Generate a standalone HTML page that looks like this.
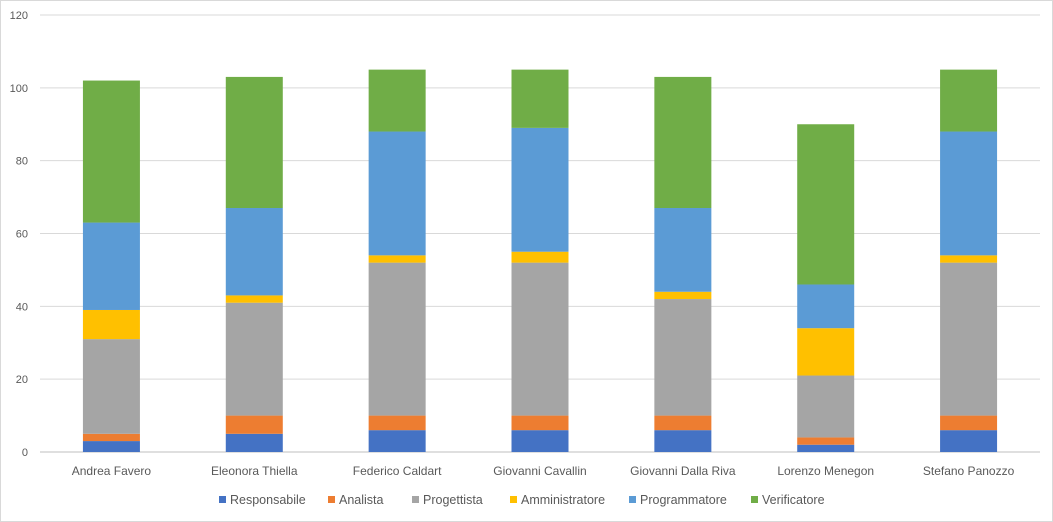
<!DOCTYPE html>
<html><head><meta charset="utf-8"><style>
body{margin:0;background:#fff;}
svg{display:block;font-family:"Liberation Sans",sans-serif;}
</style></head><body>
<svg id="chart" width="1053" height="522">
<rect x="0.5" y="0.5" width="1052" height="521" fill="#fff" stroke="#d9d9d9"/>
<g id="grid"></g><g id="bars"></g><g id="labels"></g><g id="legend"></g>
</svg>
<script>
const categories=["Andrea Favero","Eleonora Thiella","Federico Caldart","Giovanni Cavallin","Giovanni Dalla Riva","Lorenzo Menegon","Stefano Panozzo"];
const seriesNames=["Responsabile","Analista","Progettista","Amministratore","Programmatore","Verificatore"];
const responsabile=[3,5,6,6,6,2,6];
const analista=[2,5,4,4,4,2,4];
const progettista=[26,31,42,42,32,17,42];
const amministratore=[8,2,2,3,2,13,2];
const programmatore=[24,24,34,34,23,12,34];
const verificatore=[39,36,17,16,36,44,17];
const yTicks=[0,20,40,60,80,100,120];
const series=[responsabile,analista,progettista,amministratore,programmatore,verificatore];
const colors=["#4472c4","#ed7d31","#a5a5a5","#ffc000","#5b9bd5","#70ad47"];
const NS="http://www.w3.org/2000/svg";
const x0=40,x1=1040,yBase=452,yTop=15,yMax=120;
const y=v=>yBase-(v/yMax)*(yBase-yTop);
const band=(x1-x0)/categories.length;
const xc=i=>x0+band*(i+0.5);
const bw=57;
function mk(tag,attrs,parent){const e=document.createElementNS(NS,tag);for(const k in attrs)e.setAttribute(k,attrs[k]);parent.appendChild(e);return e;}
const grid=document.getElementById('grid'),bars=document.getElementById('bars'),labels=document.getElementById('labels'),legend=document.getElementById('legend');
yTicks.forEach(t=>{
 const l=mk('line',{x1:x0,x2:x1,y1:y(t),y2:y(t),stroke:t===0?'#bfbfbf':'#d9d9d9','stroke-width':1},grid);
 
 
 const tx=mk('text',{x:28,y:y(t)+4,'text-anchor':'end','font-size':11,fill:'#595959'},labels);
 tx.textContent=t;
 
 
});
categories.forEach((c,i)=>{
 let acc=0;
 series.forEach((s,j)=>{
  const v=s[i];
  const r=mk('rect',{x:xc(i)-bw/2,y:y(acc+v),width:bw,height:y(acc)-y(acc+v),fill:colors[j]},bars);
  
  
  acc+=v;
 });
 const t=mk('text',{x:xc(i),y:475,'text-anchor':'middle','font-size':12,fill:'#595959'},labels);
 t.textContent=c;
 
 
});
const legX=[219,328,412,510,629,751];
seriesNames.forEach((n,j)=>{
 const g=mk('g',{},legend);
 
 
 mk('rect',{x:legX[j],y:496,width:7,height:7,fill:colors[j]},g);
 const t=mk('text',{x:legX[j]+11,y:504,'font-size':12.5,fill:'#595959'},g);
 t.textContent=n;
});
</script>
</body></html>
